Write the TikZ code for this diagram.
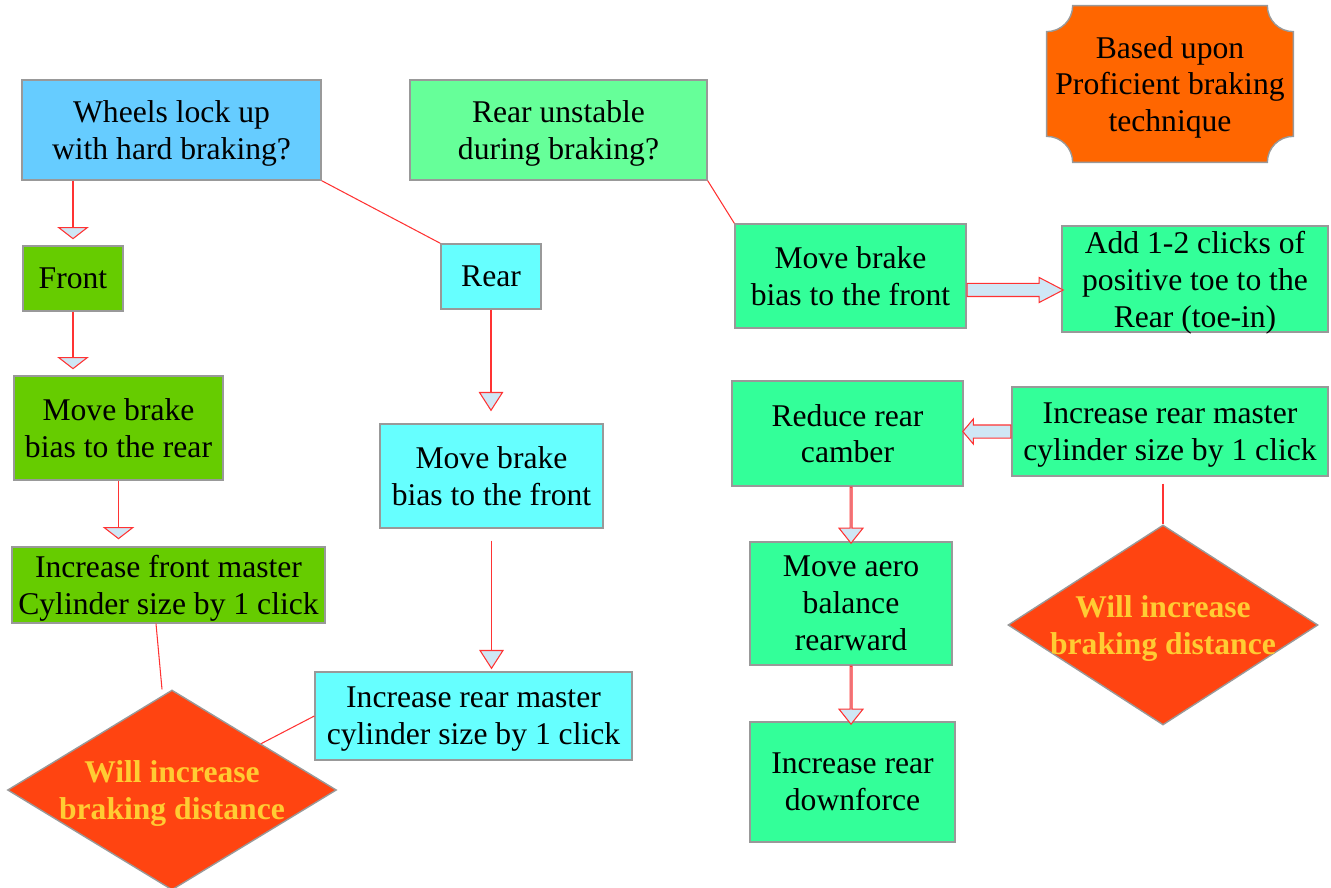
\documentclass[tikz,border=0pt]{standalone}
\usepackage{fontspec}
\setmainfont{Liberation Serif}
\usepackage{xcolor}
\usepackage{tikz}
\usetikzlibrary{arrows.meta,shapes.geometric,shapes.arrows,backgrounds}

\definecolor{boxgray}{HTML}{999999}
\definecolor{linered}{HTML}{FF3333}
\definecolor{arrowfill}{HTML}{CFE7F5}
\definecolor{lockblue}{HTML}{66CCFF}
\definecolor{paleGreen}{HTML}{66FF99}
\definecolor{frontGreen}{HTML}{66CC00}
\definecolor{rearCyan}{HTML}{66FFFF}
\definecolor{mintGreen}{HTML}{33FF99}
\definecolor{noteOrange}{HTML}{FF6600}
\definecolor{warnRed}{HTML}{FF4411}
\definecolor{warnYellow}{HTML}{FFCC33}

\begin{document}
\begin{tikzpicture}[
    x=0.02cm, y=-0.02cm,
    txt/.style={align=center, font=\fontsize{18}{21}\selectfont, text depth=0pt},
    box/.style={txt, draw=boxgray, line width=0.8pt, inner sep=2pt},
    warn/.style={txt, diamond, draw=boxgray, line width=0.8pt, fill=warnRed, text=warnYellow, inner sep=-0.5cm,
        font=\fontsize{18}{21}\selectfont\bfseries},
    link/.style={draw=linered, line width=0.6pt},
    arr/.style={link, -{Triangle[length=7pt, width=18pt, fill=arrowfill]}},
    arrlong/.style={link, -{Triangle[length=11pt, width=14pt, fill=arrowfill]}},
    blockarr/.style={single arrow, draw=linered, line width=0.6pt, fill=arrowfill, inner xsep=0pt, inner ysep=0.12cm,
        minimum width=0.48cm, single arrow head extend=0.12cm, text height=0pt, text depth=0pt},
]
\useasboundingbox (0,0) rectangle (1331,888);

% Question boxes
\node[box, fill=lockblue, minimum width=5.98cm, minimum height=2cm] (wheels) at (171.5,130) {Wheels lock up\\with hard braking?};
\node[box, fill=paleGreen, minimum width=5.94cm, minimum height=2cm] (unstable) at (558.5,130) {Rear unstable\\during braking?};

% Note
\node[txt, minimum width=4.92cm, minimum height=3.12cm] (based) at (1170,84) {Based upon\\Proficient braking\\technique};
\begin{scope}[on background layer]
\draw[draw=boxgray, fill=noteOrange, line width=0.8pt]
    ([xshift=0.52cm]based.north west) -- ([xshift=-0.52cm]based.north east)
    arc[start angle=180, end angle=270, radius=0.52cm]
    -- ([yshift=0.52cm]based.south east)
    arc[start angle=90, end angle=180, radius=0.52cm]
    -- ([xshift=0.52cm]based.south west)
    arc[start angle=0, end angle=90, radius=0.52cm]
    -- ([yshift=-0.52cm]based.north west)
    arc[start angle=270, end angle=360, radius=0.52cm] -- cycle;
\end{scope}

% Front lock branch
\node[box, fill=frontGreen, minimum width=2cm, minimum height=1.3cm] (front) at (73,278.5) {Front};
\node[box, fill=frontGreen, minimum width=4.18cm, minimum height=2.08cm] (biasRear) at (118.5,428) {Move brake\\bias to the rear};
\node[box, fill=frontGreen, minimum width=6.26cm, minimum height=1.52cm] (incFront) at (168.5,585) {Increase front master\\Cylinder size by 1 click};
\node[warn, minimum width=6.58cm, minimum height=4cm] (warnLeft) at (172,790) {Will increase\\braking distance};

% Rear lock branch
\node[box, fill=rearCyan, minimum width=2cm, minimum height=1.3cm] (rear) at (491,276.5) {Rear};
\node[box, fill=rearCyan, minimum width=4.46cm, minimum height=2.08cm] (biasFront) at (491.5,476) {Move brake\\bias to the front};
\node[box, fill=rearCyan, minimum width=6.34cm, minimum height=1.76cm] (incRear) at (473.5,716) {Increase rear master\\cylinder size by 1 click};

% Unstable rear branch
\node[box, fill=mintGreen, minimum width=4.62cm, minimum height=2.08cm] (biasFrontB) at (850.5,276) {Move brake\\bias to the front};
\node[box, fill=mintGreen, minimum width=5.32cm, minimum height=2.12cm] (toe) at (1195,279) {Add 1-2 clicks of\\positive toe to the\\Rear (toe-in)};
\node[box, fill=mintGreen, minimum width=4.62cm, minimum height=2.1cm] (camber) at (847.5,433.5) {Reduce rear\\camber};
\node[box, fill=mintGreen, minimum width=6.32cm, minimum height=1.78cm] (incRearB) at (1170,431.5) {Increase rear master\\cylinder size by 1 click};
\node[box, fill=mintGreen, minimum width=4.04cm, minimum height=2.46cm] (aero) at (851,603.5) {Move aero\\balance\\rearward};
\node[box, fill=mintGreen, minimum width=4.1cm, minimum height=2.4cm] (downforce) at (852.5,782) {Increase rear\\downforce};
\node[warn, minimum width=6.2cm, minimum height=4cm] (warnRight) at (1163,625) {Will increase\\braking distance};

% Connectors, left side
\draw[arr, shorten >=0.12cm] (wheels.south -| front.north) -- (front.north);
\draw[arr, shorten >=0.12cm] (front.south) -- (front.south |- biasRear.north);
\draw[arr, shorten >=0.14cm] (biasRear.south) -- (biasRear.south |- incFront.north);
\draw[link] ([xshift=-0.25cm]incFront.south) -- ([xshift=-0.2cm]warnLeft.north);
\draw[link] (wheels.south east) -- (rear.north west);
\draw[arrlong, shorten >=0.24cm] (rear.south) -- (rear.south |- biasFront.north);
\draw[arrlong, shorten <=0.24cm, shorten >=0.04cm] (biasFront.south) -- (biasFront.south |- incRear.north);
\draw[link] (incRear.west) -- (warnLeft);

% Connectors, right side
\draw[link] (unstable.south east) -- (biasFrontB.north west);
\draw[link, shorten <=0.14cm] (incRearB.south -| warnRight.north) -- (warnRight.north);
\node[blockarr, anchor=tail, minimum height=1.92cm, single arrow tip angle=55] (toeArr) at ([yshift=-0.28cm]biasFrontB.east) {};
\node[blockarr, anchor=tail, minimum height=0.96cm, single arrow tip angle=100, shape border rotate=180] (camberArr) at (incRearB.west) {};
\node[blockarr, anchor=tail, minimum height=1.12cm, single arrow tip angle=77, shape border rotate=270] (aeroArr) at ([xshift=0.07cm]camber.south) {};
\node[blockarr, anchor=tail, minimum height=1.16cm, single arrow tip angle=77, shape border rotate=270] (downArr) at (aero.south) {};
\end{tikzpicture}
\end{document}
